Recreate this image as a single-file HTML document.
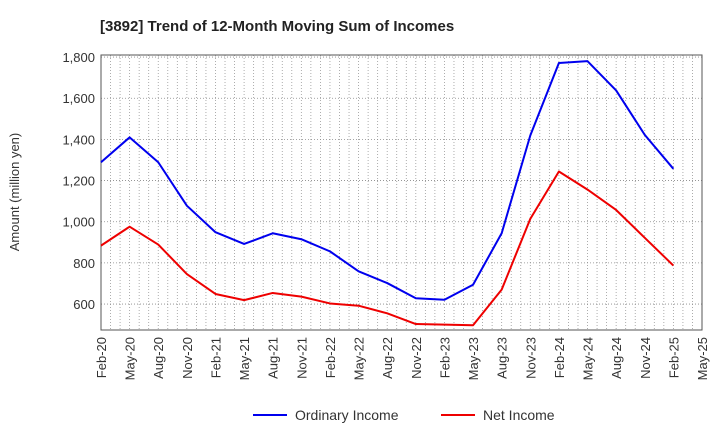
<!DOCTYPE html>
<html><head><meta charset="utf-8"><style>
body{margin:0;background:#fff;font-family:"Liberation Sans",sans-serif}
</style></head><body>
<svg id="c" width="720" height="440" xmlns="http://www.w3.org/2000/svg">
<text x="100" y="31" font-size="15" font-weight="bold" fill="#222">[3892]  Trend of 12-Month Moving Sum of Incomes</text>
<g id="grid"></g><g id="axes"></g><g id="series"></g>
<text transform="translate(19,192) rotate(-90)" text-anchor="middle" font-size="13" fill="#333">Amount (million yen)</text>
<g>
<line x1="253" y1="415" x2="287" y2="415" stroke="#0000ee" stroke-width="2"/>
<text x="295" y="420" font-size="14" fill="#333">Ordinary Income</text>
<line x1="441" y1="415" x2="475" y2="415" stroke="#ee0000" stroke-width="2"/>
<text x="483" y="420" font-size="14" fill="#333">Net Income</text>
</g>
</svg>
<script>
const categories=["Feb-20","May-20","Aug-20","Nov-20","Feb-21","May-21","Aug-21","Nov-21","Feb-22","May-22","Aug-22","Nov-22","Feb-23","May-23","Aug-23","Nov-23","Feb-24","May-24","Aug-24","Nov-24","Feb-25","May-25"];
const ordinaryIncome=[1289,1410,1289,1078,949,892,944,915,856,759,702,628,621,694,944,1419,1771,1780,1638,1422,1257];
const netIncome=[884,976,889,746,649,619,654,636,603,592,555,503,500,497,670,1014,1244,1156,1057,922,787];
const yTicks=[600,800,1000,1200,1400,1600,1800];
const L=101,R=702,T=55,B=330,yMin=474,yMax=1810;
const NS="http://www.w3.org/2000/svg";
const xs=i=>L+i*(R-L)/(categories.length-1);
const ys=v=>B-(v-yMin)/(yMax-yMin)*(B-T);
function mk(t,a,p){const e=document.createElementNS(NS,t);for(const k in a)e.setAttribute(k,a[k]);p.appendChild(e);return e;}
const grid=document.getElementById('grid'),axes=document.getElementById('axes'),ser=document.getElementById('series');
const nMonths=(categories.length-1)*3;
for(let m=0;m<=nMonths;m++){const x=L+m*(R-L)/nMonths;
const l=mk('line',{x1:x,x2:x,y1:T,y2:B,stroke:'#999','stroke-width':0.8,'stroke-dasharray':'1,2'},grid);

}
yTicks.forEach(v=>{const y=ys(v);
const l=mk('line',{x1:L,x2:R,y1:y,y2:y,stroke:'#888','stroke-width':0.8,'stroke-dasharray':'1,2'},grid);


const t=mk('text',{x:L-6,y:y+5,'text-anchor':'end','font-size':13,fill:'#333'},axes);t.textContent=v.toLocaleString('en-US');

});
const fr=mk('rect',{x:L,y:T,width:R-L,height:B-T,fill:'none',stroke:'#555','stroke-width':1},axes);


categories.forEach((c,i)=>{const x=xs(i);
const t=mk('text',{transform:`translate(${x+5},${B+7}) rotate(-90)`,'text-anchor':'end','font-size':13,fill:'#333'},axes);t.textContent=c;

});
function line(d,col,name){const p=mk('polyline',{points:d.map((v,i)=>xs(i)+','+ys(v)).join(' '),fill:'none',stroke:col,'stroke-width':2,'stroke-linejoin':'round'},ser);

}
line(ordinaryIncome,'#0000ee','ordinary-income-line');
line(netIncome,'#ee0000','net-income-line');
</script>
</body></html>
